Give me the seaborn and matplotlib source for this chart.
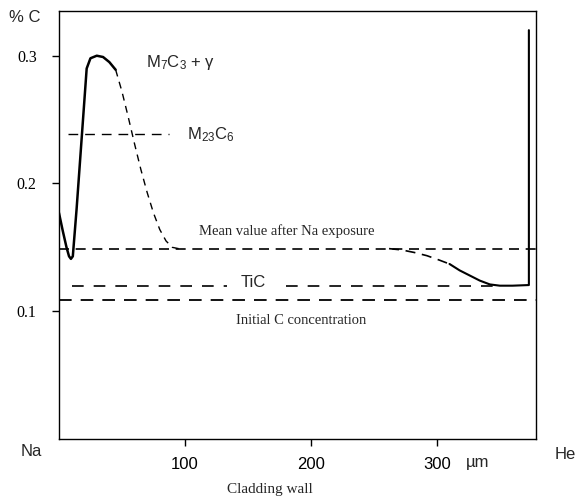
"""
Carbon profile across the cladding wall (Na side -> He side).
"""

import numpy as np
import pandas as pd
import seaborn as sns
import matplotlib.pyplot as plt

# solid part of the profile near the Na side
near_x = [0, 3, 6, 8, 9.5, 11, 14, 18, 22, 25, 30, 35, 40, 45]
near_y = [0.177, 0.163, 0.150, 0.143, 0.141, 0.143, 0.180, 0.235, 0.290, 0.298, 0.300, 0.299, 0.295, 0.289]

# dashed decay after the maximum
decay_x = [45, 50, 55, 60, 65, 70, 75, 80, 85, 90, 95]
decay_y = [0.289, 0.272, 0.252, 0.231, 0.211, 0.193, 0.177, 0.164, 0.155, 0.150, 0.149]

# dashed drop towards the He side
drop_x = [262, 272, 282, 292, 302, 310]
drop_y = [0.149, 0.148, 0.146, 0.1435, 0.140, 0.137]

# solid part on the He side
he_x = [310, 318, 326, 334, 342, 350, 360, 373, 373]
he_y = [0.137, 0.132, 0.128, 0.124, 0.121, 0.120, 0.120, 0.1205, 0.320]

mean_after_na = 0.149
initial_c = 0.109
tic_level = 0.1195
m23c6_level = 0.239

x_ticks = [100, 200, 300]
y_ticks = [0.1, 0.2, 0.3]

sns.set_style("ticks")
plt.rcParams["font.family"] = ["Liberation Sans", "DejaVu Sans"]
plt.rcParams["mathtext.fontset"] = "custom"
plt.rcParams["mathtext.rm"] = "Liberation Sans"
plt.rcParams["mathtext.it"] = "Liberation Sans"

fig = plt.figure(figsize=(5.78, 5.0), dpi=100)
ax = fig.add_axes([0.102, 0.122, 0.825, 0.856])

sns.lineplot(x=near_x, y=near_y, ax=ax, color="black", lw=1.8, sort=False, estimator=None)
sns.lineplot(x=decay_x, y=decay_y, ax=ax, color="black", lw=1.0, sort=False,
             estimator=None, linestyle=(0, (5, 4)))
sns.lineplot(x=drop_x, y=drop_y, ax=ax, color="black", lw=1.2, sort=False,
             estimator=None, linestyle=(0, (6, 4)))
sns.lineplot(x=he_x, y=he_y, ax=ax, color="black", lw=1.5, sort=False, estimator=None)

ax.plot([0, 378.5], [mean_after_na] * 2, color="black", lw=1.2, linestyle=(0, (6, 4)))
ax.plot([0, 378.5], [initial_c] * 2, color="black", lw=1.3, linestyle=(0, (7, 5)))
ax.plot([10, 133], [tic_level] * 2, color="black", lw=1.2, linestyle=(0, (7, 6)))
ax.plot([180, 345], [tic_level] * 2, color="black", lw=1.2, linestyle=(0, (7, 6)))
ax.plot([7, 87], [m23c6_level] * 2, color="black", lw=1.0, linestyle=(0, (7, 5)))

ax.set_xlim(0, 378.5)
ax.set_ylim(0, 0.335)
ax.set_xticks(x_ticks)
ax.set_xticklabels([str(t) for t in x_ticks], fontsize=12)
ax.set_yticks(y_ticks)
ax.set_yticklabels([f"{t:.1f}" for t in y_ticks], fontsize=11.5, family="Liberation Serif")
ax.tick_params(direction="out", length=5, width=1, colors="black")
ax.tick_params(axis="x", pad=8)
ax.tick_params(axis="y", pad=11)
for s in ax.spines.values():
    s.set_visible(True)
    s.set_color("black")
    s.set_linewidth(1.0)

serif = "Liberation Serif"
ax.text(69, 0.295, "M$_7$C$_3$ + γ", fontsize=12, va="center", ha="left")
ax.text(102, 0.238, "M$_{23}$C$_6$", fontsize=12, va="center", ha="left")
ax.text(181, 0.163, "Mean value after Na exposure", fontsize=10.5,
        family=serif, ha="center", va="center")
ax.text(154, 0.1225, "TiC", fontsize=12, ha="center", va="center")
ax.text(192, 0.093, "Initial C concentration", fontsize=10.5,
        family=serif, ha="center", va="center")

fig.text(0.042, 0.966, "% C", fontsize=12, ha="center", va="center")
fig.text(0.054, 0.096, "Na", fontsize=12, ha="center", va="center")
fig.text(0.978, 0.091, "He", fontsize=12, ha="center", va="center")
fig.text(0.826, 0.074, "µm", fontsize=12, ha="center", va="center")
fig.text(0.467, 0.02, "Cladding wall", fontsize=11, family=serif, ha="center", va="center")

fig.savefig("out.png", dpi=100)
